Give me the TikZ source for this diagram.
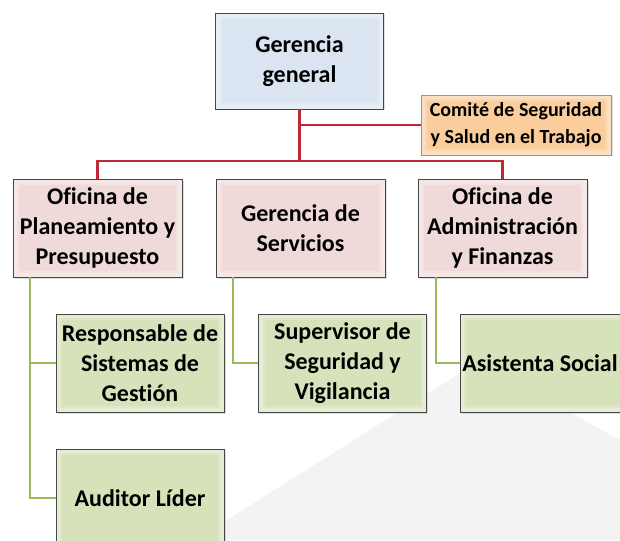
\documentclass[tikz,border=0pt]{standalone}
\usepackage{fontspec}
\setmainfont{Carlito}[Ligatures=NoCommon]
\usetikzlibrary{shadows}
\definecolor{bgshade}{RGB}{243,243,243}
\definecolor{boxline}{RGB}{70,70,70}
\definecolor{topfill}{RGB}{219,229,241}
\definecolor{midfill}{RGB}{240,218,217}
\definecolor{lowfill}{RGB}{213,226,186}
\definecolor{comfill}{RGB}{251,204,156}
\definecolor{redline}{RGB}{192,40,52}
\definecolor{greenline}{RGB}{155,187,89}
\tikzset{
  bevel/.style={path picture={
    \draw[white, opacity=0.22, line width=8pt]
      ([shift={(2pt,-2pt)}]path picture bounding box.north west) rectangle
      ([shift={(-2pt,2pt)}]path picture bounding box.south east);
    \draw[white, opacity=0.22, line width=4pt]
      ([shift={(2pt,-2pt)}]path picture bounding box.north west) rectangle
      ([shift={(-2pt,2pt)}]path picture bounding box.south east);}},
  orgbox/.style={draw=boxline, line width=0.9pt, align=center, inner sep=2pt,
    font=\fontsize{24}{30}\selectfont\bfseries, bevel,
    drop shadow={shadow xshift=1.5pt, shadow yshift=-1.5pt, opacity=0.25}},
  topbox/.style={orgbox, fill=topfill, minimum width=168pt, minimum height=96pt},
  midbox/.style={orgbox, fill=midfill, minimum width=169pt, minimum height=98pt},
  lowbox/.style={orgbox, fill=lowfill, minimum width=168pt, minimum height=98pt},
  combox/.style={orgbox, fill=comfill, draw=comfill!70!black, line width=0.6pt,
    minimum width=190pt, minimum height=60pt,
    font=\fontsize{20}{27}\selectfont\bfseries},
  redconn/.style={draw=redline, line width=2.2pt},
  greenconn/.style={draw=greenline, line width=2.2pt}
}
\begin{document}
\begin{tikzpicture}[x=1pt, y=-1pt]
\useasboundingbox (0,0) rectangle (620,540);
\clip (0,0) rectangle (620,540);
\fill[white] (0,0) rectangle (620,540);
\fill[bgshade] (195,540) -- (478,362) -- (620,440) -- (620,540) -- cycle;

\node[topbox] (gg) at (299.5,61) {Gerencia\\general};
\node[combox] (com) at (516,125) {Comité de Seguridad\\y Salud en el Trabajo};

\node[midbox] (p1) at (97.5,228) {Oficina de\\Planeamiento y\\Presupuesto};
\node[midbox] (p2) at (300.5,228) {Gerencia de\\Servicios};
\node[midbox] (p3) at (502.5,228) {Oficina de\\Administración\\y Finanzas};

\node[lowbox] (r1) at (140,363) {Responsable de\\Sistemas de\\Gestión};
\node[lowbox] (au) at (140,498) {Auditor Líder};
\node[lowbox] (s2) at (342.5,363) {Supervisor de\\Seguridad y\\Vigilancia};
\node[lowbox] (a3) at (544,363) {Asistenta Social\hspace{8pt}};

\coordinate (j) at (299.5,161);
\draw[redconn] (gg.south) -- (j);
\draw[redconn] (gg.south |- com.west) -- (com.west);
\draw[redconn] (p1.north) |- (j) -| (p3.north);

\draw[greenconn] ([xshift=17.5pt]p1.south west) |- (r1.west);
\draw[greenconn] ([xshift=17.5pt]p1.south west) |- (au.west);
\draw[greenconn] ([xshift=17.5pt]p2.south west) |- (s2.west);
\draw[greenconn] ([xshift=18.5pt]p3.south west) |- (a3.west);
\end{tikzpicture}
\end{document}
